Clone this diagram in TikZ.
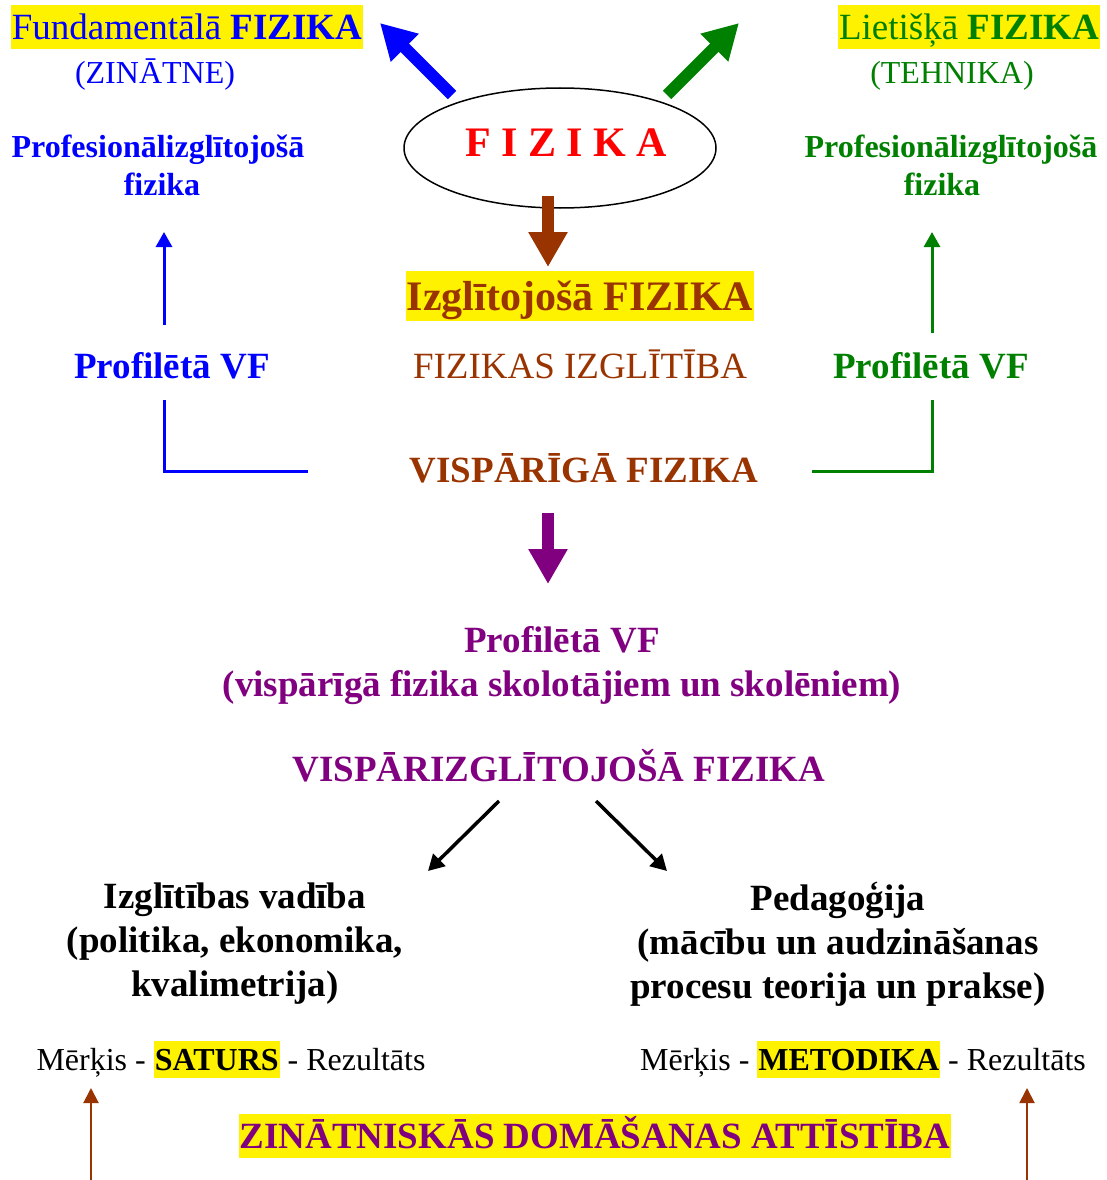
\documentclass[tikz,border=0pt]{standalone}
\usepackage{fontspec}
\setmainfont{Liberation Serif}
\usetikzlibrary{arrows.meta,shapes.geometric}
\definecolor{vfblue}{RGB}{0,0,255}
\definecolor{vfgreen}{RGB}{0,128,0}
\definecolor{vfbrown}{RGB}{153,51,0}
\definecolor{vfpurple}{RGB}{128,0,128}
\definecolor{vfred}{RGB}{255,0,0}
\newcommand{\szL}{\fontsize{37}{44}\selectfont}
\newcommand{\szM}{\fontsize{32}{38}\selectfont}
\newcommand{\szS}{\fontsize{32}{36}\selectfont}
\newcommand{\szF}{\fontsize{42}{48}\selectfont}
\newcommand{\hlword}[1]{{\setlength{\fboxsep}{1pt}\colorbox{yellow}{\rule[-0.22em]{0pt}{1.11em}#1}}}
\tikzset{
  txt/.style={inner sep=0pt, anchor=base},
  hl/.style={txt, fill=yellow, inner xsep=1pt, inner ysep=1.5pt},
  fatarrow/.style={line width=12pt, -{Triangle[length=35pt,width=37pt]}},
  slimarrow/.style={line width=3pt, -{Triangle[length=15pt,width=16pt]}},
  blackarrow/.style={line width=3.5pt, -{Triangle[length=16pt,width=17pt]}},
  brownarrow/.style={vfbrown, line width=2pt, -{Triangle[length=15pt,width=15pt]}},
  elbowline/.style={line width=3pt}
}
\begin{document}
\begin{tikzpicture}[x=1pt, y=-1pt, line join=miter]
  \useasboundingbox (0,0) rectangle (1107,1180);
  % top row
  \node[hl, text=vfblue, font=\szL, text height=33pt, text depth=8pt] (fund) at (187,40) {Fundamentālā \textbf{FIZIKA}};
  \node[txt, text=vfblue, font=\szM] (zin) at (155,84) {(ZINĀTNE)};
  \node[align=center, inner sep=0pt, text=vfblue, font=\szM\bfseries] (profL) at (158,165) {Profesionālizglītojošā\\\hspace*{8pt}fizika};
  \node[hl, text=vfgreen, font=\szL, text height=33pt, text depth=8pt] (liet) at (969,40) {Lietišķā \textbf{FIZIKA}};
  \node[txt, text=vfgreen, font=\szM] (teh) at (952,84) {(TEHNIKA)};
  \node[align=center, inner sep=0pt, text=vfgreen, font=\szM\bfseries] (profR) at (951,165) {Profesionālizglītojošā\\fizika\hspace*{18pt}};
  \node[draw, ellipse, line width=1.5pt, minimum width=312pt, minimum height=120pt, inner sep=0pt,
        text=vfred, font=\szF\bfseries, text height=28pt, text depth=10pt] (fizika) at (560,148) {\kern12pt F I Z I K A};
  % middle
  \node[hl, text=vfbrown, font=\szF\bfseries, text height=37.5pt, text depth=9pt] (izgl) at (580,310) {Izglītojošā FIZIKA};
  \node[txt, text=vfbrown, font=\szL] (fizizgl) at (580,378) {FIZIKAS IZGLĪTĪBA};
  \node[txt, text=vfbrown, font=\szL\bfseries] (visp) at (584,482) {VISPĀRĪGĀ FIZIKA};
  \node[txt, text=vfblue, font=\szL\bfseries] (pvfL) at (172,378) {Profilētā VF};
  \node[txt, text=vfgreen, font=\szL\bfseries] (pvfR) at (931,378) {Profilētā VF};
  \node[align=center, inner sep=0pt, text=vfpurple, font=\szL\bfseries] (pvfM) at (562,666) {Profilētā VF\\(vispārīgā fizika skolotājiem un skolēniem)};
  \node[txt, text=vfpurple, font=\szL\bfseries] (vizf) at (559,781) {VISPĀRIZGLĪTOJOŠĀ FIZIKA};
  % bottom
  \node[align=center, inner sep=0pt, font=\szL\bfseries] (vad) at (235,944) {Izglītības vadība\\(politika, ekonomika,\\kvalimetrija)};
  \node[align=center, inner sep=0pt, font=\szL\bfseries] (ped) at (838,944) {Pedagoģija\\(mācību un audzināšanas\hspace*{10pt}\\procesu teorija un prakse)};
  \node[txt, font=\szS] (merL) at (231,1070) {Mērķis - \hlword{\textbf{SATURS}} - Rezultāts};
  \node[txt, font=\szS] (merR) at (863,1070) {Mērķis - \hlword{\textbf{METODIKA}} - Rezultāts};
  \node[hl, text=vfpurple, font=\szL\bfseries, text height=33pt, text depth=8pt] (domas) at (595,1148) {ZINĀTNISKĀS DOMĀŠANAS ATTĪSTĪBA};
  % arrow ends
  \coordinate (fzB) at (452,95);   \coordinate (fundT) at (380,23);
  \coordinate (fzG) at (667,95);   \coordinate (lietT) at (739,23);
  \coordinate (fzS) at (548,196);  \coordinate (izglT) at (548,267);
  \coordinate (vispS) at (548,513); \coordinate (pvfT) at (548,584);
  \coordinate (pvfLn) at (164,325); \coordinate (profLs) at (164,232);
  \coordinate (pvfRn) at (932,333); \coordinate (profRs) at (932,232);
  \coordinate (pvfLs) at (164,400); \coordinate (vispW) at (308,471);
  \coordinate (pvfRs) at (932,400); \coordinate (vispE) at (812,471);
  \coordinate (vizfL) at (499,801); \coordinate (vadT) at (428,871);
  \coordinate (vizfR) at (596,801); \coordinate (pedT) at (667,871);
  \coordinate (baseL) at (91,1180); \coordinate (merLT) at (91,1088);
  \coordinate (baseR) at (1027,1180); \coordinate (merRT) at (1027,1088);
  % connectors
  \draw[fatarrow, vfblue] (fzB) -- (fundT);
  \draw[fatarrow, vfgreen] (fzG) -- (lietT);
  \draw[fatarrow, vfbrown] (fzS) -- (izglT);
  \draw[fatarrow, vfpurple] (vispS) -- (pvfT);
  \draw[slimarrow, vfblue] (pvfLn) -- (profLs);
  \draw[slimarrow, vfgreen] (pvfRn) -- (profRs);
  \draw[elbowline, vfblue] (pvfLs) |- (vispW);
  \draw[elbowline, vfgreen] (vispE) -| (pvfRs);
  \draw[blackarrow] (vizfL) -- (vadT);
  \draw[blackarrow] (vizfR) -- (pedT);
  \draw[brownarrow] (baseL) -- (merLT);
  \draw[brownarrow] (baseR) -- (merRT);
\end{tikzpicture}
\end{document}
